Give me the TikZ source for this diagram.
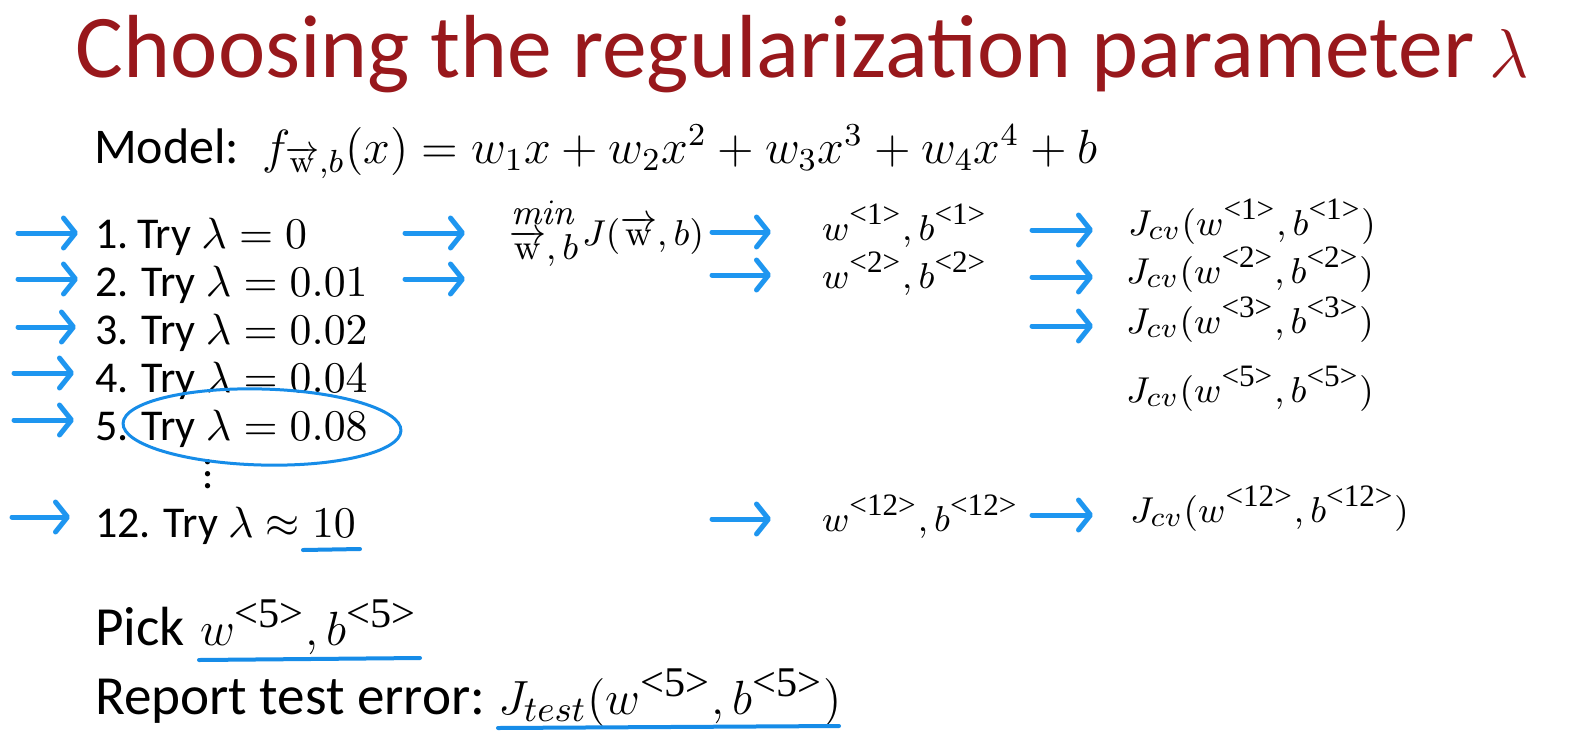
\documentclass[tikz,border=0pt]{standalone}
\usepackage{amsmath}
\usepackage{graphicx}
\usepackage[no-math]{fontspec}
\setmainfont{Carlito}
\newfontfamily\serifx{Liberation Serif}
\usetikzlibrary{arrows.meta,shapes.geometric}
\definecolor{arrblue}{RGB}{30,150,240}
\definecolor{penblue}{RGB}{22,140,232}
\definecolor{titlered}{RGB}{152,24,28}
\newcommand\angsup[1]{^{\scalebox{0.82}{\serifx <#1>}}}
\newcommand\wvec{\overrightarrow{\mathrm{w}}}
\begin{document}
\begin{tikzpicture}[x=0.25pt,y=-0.25pt,
  every node/.style={inner sep=0pt, outer sep=0pt, anchor=base west},
  titlet/.style={font=\fontsize{22.4}{26}\selectfont, text=titlered},
  modelt/.style={font=\fontsize{12.5}{15}\selectfont},
  formt/.style={font=\fontsize{11.7}{15}\selectfont},
  rowt/.style={font=\fontsize{11}{13.5}\selectfont},
  mint/.style={font=\fontsize{9.4}{12}\selectfont},
  jt/.style={font=\fontsize{9}{11}\selectfont},
  colt/.style={font=\fontsize{9.5}{11.5}\selectfont},
  bott/.style={font=\fontsize{13.8}{16}\selectfont},
  botm/.style={font=\fontsize{12.9}{16}\selectfont},
  bluearrow/.style={draw=arrblue, line width=1.25pt, line cap=round,
    -{Straight Barb[length=3pt, width=7.5pt, line width=1.25pt, round]}},
  penline/.style={draw=penblue, line width=1pt, line cap=round},
  penellipse/.style={draw=penblue, line width=0.75pt, ellipse}
]
\fill[white] (0,0) rectangle (1595,751);
\useasboundingbox (0,0) rectangle (1595,751);

% title
\node[titlet] (title) at (76,77) {Choosing the regularization parameter \kern-1.5pt\fontsize{16}{20}\selectfont$\lambda$};

% model
\node[modelt] (model) at (94,163) {Model:};
\node[formt] (formula) at (262,163) {$f_{\wvec,b}(x) = w_1x+w_2x^2+w_3x^3+w_4x^4+b$};

% rows
\node[rowt] (r1) at (95,248) {1.\kern0.2em Try $\lambda = 0$};
\node[rowt] (r2) at (95,296) {2. Try $\lambda = 0.01$};
\node[rowt] (r3) at (95,344) {3. Try $\lambda = 0.02$};
\node[rowt] (r4) at (95,392) {4. Try $\lambda = 0.04$};
\node[rowt] (r5) at (95,440) {5. Try $\lambda = 0.08$};
\node[rowt, anchor=center] (dots) at (208,474) {\vbox{\baselineskip3pt\lineskiplimit-10pt\lineskip0pt\hbox{.}\hbox{.}\hbox{.}}};
\node[rowt] (r12) at (95,537) {12. Try $\lambda \approx 10$};

% min J
\node[mint] (min) at (511,224) {$\mathit{min}$};
\node[mint] (wb) at (509,259) {$\wvec,b$};
\node[jt] (J) at (582,245) {$J(\wvec,b)$};

% parameters
\node[colt] (p1) at (822,240) {$w\angsup{1}, b\angsup{1}$};
\node[colt] (p2) at (822,288) {$w\angsup{2}, b\angsup{2}$};
\node[colt] (p12) at (822,531) {$w\angsup{12}, b\angsup{12}$};

% Jcv
\node[colt] (j1) at (1128,235) {$J_{cv}(w\angsup{1}, b\angsup{1})$};
\node[colt] (j2) at (1126,283) {$J_{cv}(w\angsup{2}, b\angsup{2})$};
\node[colt] (j3) at (1126,333) {$J_{cv}(w\angsup{3}, b\angsup{3})$};
\node[colt] (j5) at (1126,402) {$J_{cv}(w\angsup{5}, b\angsup{5})$};
\node[colt] (j12) at (1130,522) {$J_{cv}(w\angsup{12}, b\angsup{12})$};

% bottom
\node[bott] (pick) at (95,645) {Pick};
\node[botm] (pickw) at (200,645) {$w\angsup{5}, b\angsup{5}$};
\node[bott] (report) at (95,714) {Report test error:};
\node[botm] (jtest) at (498,714) {$J_{test}(w\angsup{5}, b\angsup{5})$};

% arrow coordinates
\coordinate (a1s) at (18,233);  \coordinate (a1e) at (78,233);
\coordinate (a2s) at (18,279);  \coordinate (a2e) at (78,279);
\coordinate (a3s) at (18,327);  \coordinate (a3e) at (76,327);
\coordinate (a4s) at (14,373);  \coordinate (a4e) at (74,373);
\coordinate (a5s) at (14,420);  \coordinate (a5e) at (74,420);
\coordinate (a12s) at (12,517); \coordinate (a12e) at (70,517);
\coordinate (b1s) at (405,233); \coordinate (b1e) at (465,233);
\coordinate (b2s) at (405,279); \coordinate (b2e) at (465,279);
\coordinate (c1s) at (712,232); \coordinate (c1e) at (771,232);
\coordinate (c2s) at (712,275); \coordinate (c2e) at (771,275);
\coordinate (c12s) at (712,519); \coordinate (c12e) at (771,519);
\coordinate (d1s) at (1032,230); \coordinate (d1e) at (1093,230);
\coordinate (d2s) at (1032,277); \coordinate (d2e) at (1093,277);
\coordinate (d3s) at (1032,326); \coordinate (d3e) at (1093,326);
\coordinate (d12s) at (1032,515); \coordinate (d12e) at (1093,515);

\foreach \a in {a1,a2,a3,a4,a5,a12,b1,b2,c1,c2,c12,d1,d2,d3,d12}
  \draw[bluearrow] (\a s) -- (\a e);

% ellipse around row 5
\node[penellipse, minimum width=69.5pt, minimum height=19pt, rotate=-1.5, anchor=center] (circ) at (262,427) {};

% underlines
\coordinate (u1s) at (303,550); \coordinate (u1e) at (360,549);
\coordinate (u2s) at (199,660); \coordinate (u2e) at (420,658);
\coordinate (u3s) at (498,728); \coordinate (u3e) at (839,726);
\draw[penline] (u1s) -- (u1e);
\draw[penline] (u2s) -- (u2e);
\draw[penline] (u3s) -- (u3e);
\end{tikzpicture}
\end{document}
